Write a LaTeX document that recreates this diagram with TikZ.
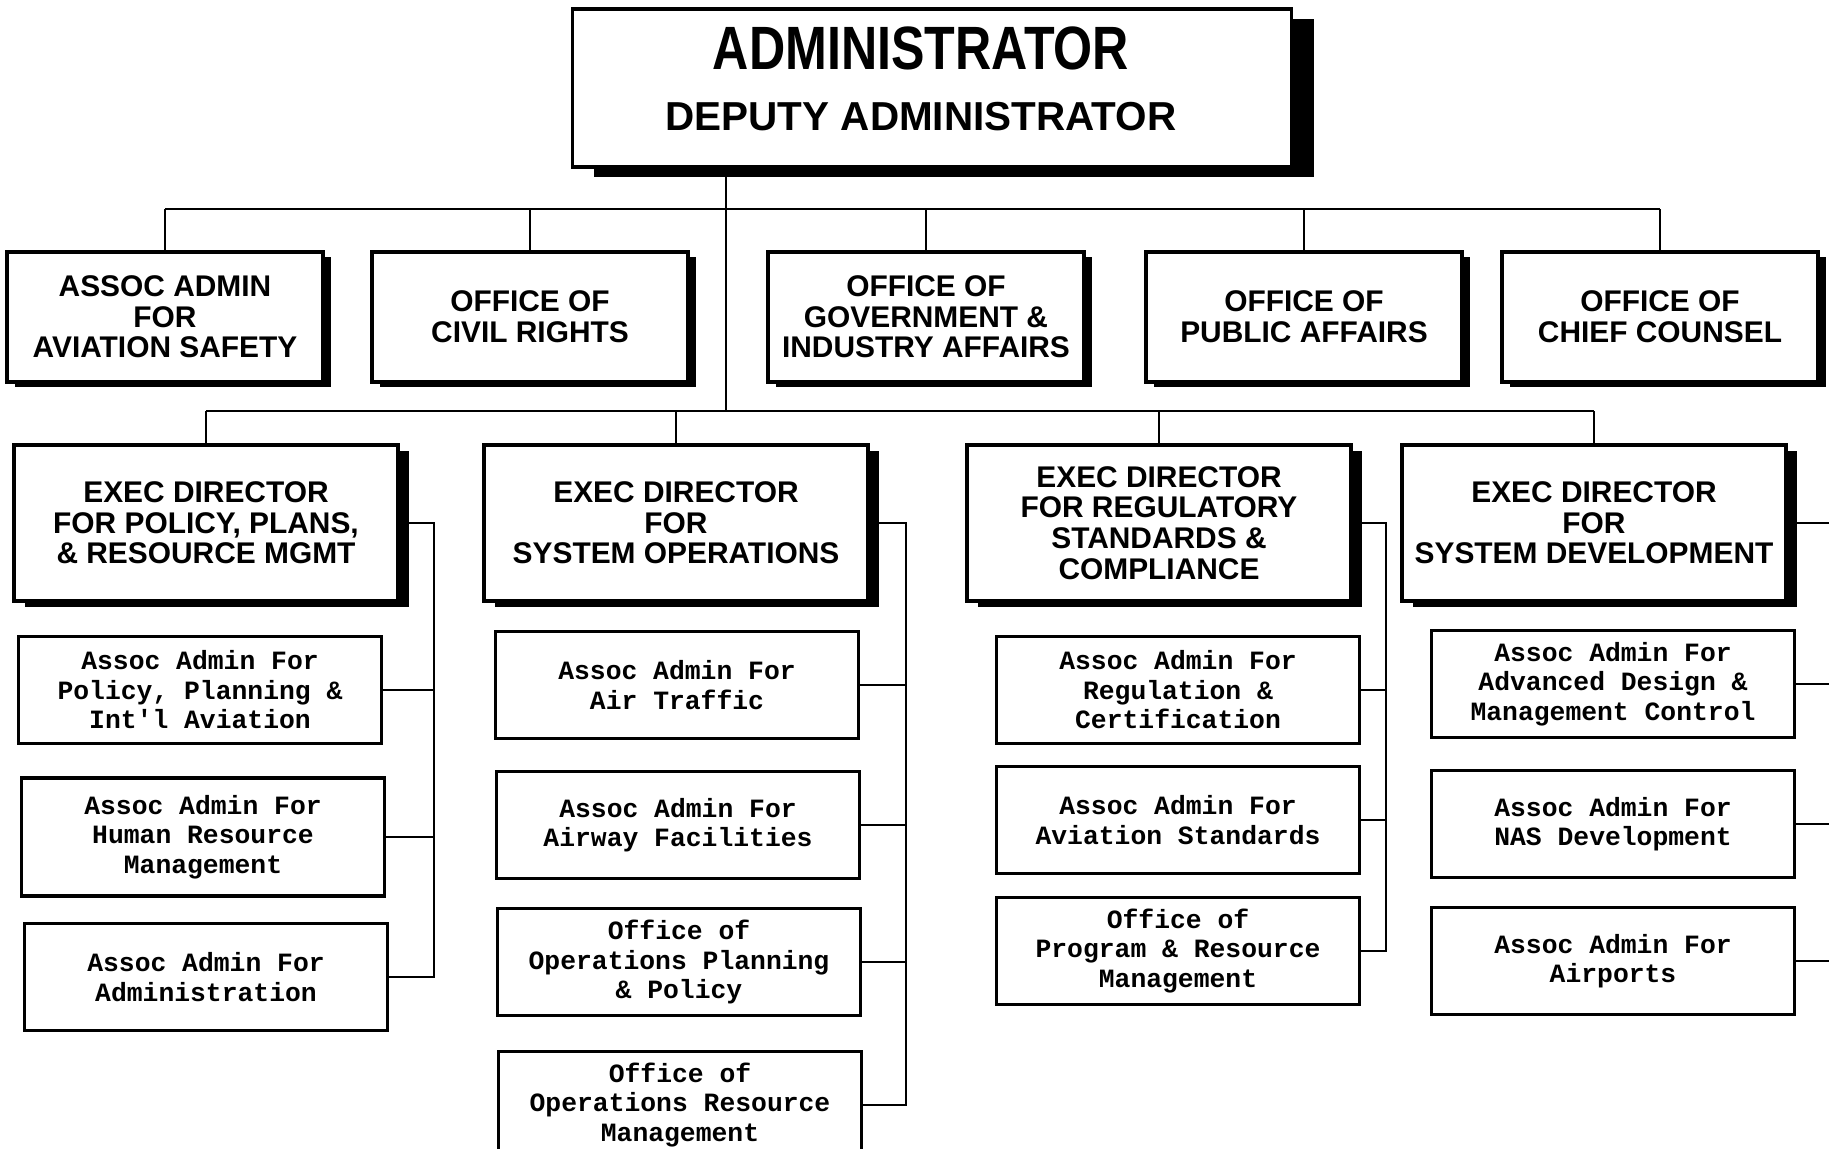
\documentclass[tikz,border=0pt]{standalone}
\usepackage{fontspec}
\setmainfont{Liberation Sans}
\newfontfamily\headfont[FakeStretch=0.82]{Liberation Sans}
\newfontfamily\typewfont{Liberation Mono}
\usetikzlibrary{shadows}

\begin{document}
\begin{tikzpicture}[
    x=0.01cm,
    y=-0.01cm,
    line width=0.8pt,
    orgbox/.style={draw, line width=1pt, fill=white, align=center, inner sep=0pt,
      font=\bfseries\fontsize{8.5}{8.7}\selectfont},
    officebox/.style={orgbox, minimum width=3.16cm, minimum height=1.3cm,
      drop shadow={shadow xshift=0.08cm, shadow yshift=-0.05cm, fill=black, opacity=1}},
    execbox/.style={orgbox, minimum width=3.84cm, minimum height=1.56cm,
      drop shadow={shadow xshift=0.11cm, shadow yshift=-0.06cm, fill=black, opacity=1}},
    unitbox/.style={draw, line width=0.9pt, fill=white, align=center, inner sep=0pt,
      font=\typewfont\bfseries\fontsize{7.5}{8.4}\selectfont,
      minimum width=3.62cm, minimum height=1.07cm}
  ]
    \useasboundingbox (0,0) rectangle (1829,1149);

    % top of the chart
    \node[orgbox, minimum width=7.19cm, minimum height=1.58cm,
      drop shadow={shadow xshift=0.22cm, shadow yshift=-0.1cm, fill=black, opacity=1}] (admin) at (932,88) {};
    \node[font=\headfont\bfseries\fontsize{17.4}{17.4}\selectfont, anchor=base] (admintitle) at (921,70) {ADMINISTRATOR};
    \node[font=\bfseries\fontsize{11.5}{11.5}\selectfont, anchor=base] (deputy) at (921,131) {DEPUTY ADMINISTRATOR};

    % staff offices
    \node[officebox] (safety) at (165,317) {ASSOC ADMIN\\FOR\\AVIATION SAFETY};
    \node[officebox] (civil) at (530,317) {OFFICE OF\\CIVIL RIGHTS};
    \node[officebox] (govt) at (926,317) {OFFICE OF\\GOVERNMENT \&\\INDUSTRY AFFAIRS};
    \node[officebox] (public) at (1304,317) {OFFICE OF\\PUBLIC AFFAIRS};
    \node[officebox] (counsel) at (1660,317) {OFFICE OF\\CHIEF COUNSEL};

    % executive directors
    \node[execbox] (plans) at (206,523) {EXEC DIRECTOR\\FOR POLICY, PLANS,\\\& RESOURCE MGMT};
    \node[execbox] (sysops) at (676,523) {EXEC DIRECTOR\\FOR\\SYSTEM OPERATIONS};
    \node[execbox] (regstd) at (1159,523) {EXEC DIRECTOR\\FOR REGULATORY\\STANDARDS \&\\COMPLIANCE};
    \node[execbox] (sysdev) at (1594,523) {EXEC DIRECTOR\\FOR\\SYSTEM DEVELOPMENT};

    % units under each director
    \node[unitbox] (p1) at (200,690) {Assoc Admin For\\Policy, Planning \&\\Int\textquotesingle l Aviation};
    \node[unitbox, minimum height=1.18cm] (p2) at (203,837) {Assoc Admin For\\Human Resource\\Management};
    \node[unitbox] (p3) at (206,977) {Assoc Admin For\\Administration};

    \node[unitbox] (s1) at (677,685) {Assoc Admin For\\Air Traffic};
    \node[unitbox] (s2) at (678,825) {Assoc Admin For\\Airway Facilities};
    \node[unitbox] (s3) at (679,962) {Office of\\Operations Planning\\\& Policy};
    \node[unitbox] (s4) at (680,1105) {Office of\\Operations Resource\\Management};

    \node[unitbox] (r1) at (1178,690) {Assoc Admin For\\Regulation \&\\Certification};
    \node[unitbox] (r2) at (1178,820) {Assoc Admin For\\Aviation Standards};
    \node[unitbox] (r3) at (1178,951) {Office of\\Program \& Resource\\Management};

    \node[unitbox] (d1) at (1613,684) {Assoc Admin For\\Advanced Design \&\\Management Control};
    \node[unitbox] (d2) at (1613,824) {Assoc Admin For\\NAS Development};
    \node[unitbox] (d3) at (1613,961) {Assoc Admin For\\Airports};

    % buses and trunk
    \coordinate (bus1) at (0,209);
    \coordinate (bus2) at (0,411);
    \coordinate (trunk) at (726,0);
    \draw (admin.south -| trunk) -- (bus2 -| trunk);
    \draw (safety.north |- bus1) -- (counsel.north |- bus1);
    \foreach \n in {safety,civil,govt,public,counsel}
      \draw (\n.north) -- (\n.north |- bus1);
    \draw (plans.north |- bus2) -- (sysdev.north |- bus2);
    \foreach \n in {plans,sysops,regstd,sysdev}
      \draw (\n.north) -- (\n.north |- bus2);

    % brackets on the right of each column
    \coordinate (plansbr) at (434,0);
    \coordinate (sysopsbr) at (906,0);
    \coordinate (regstdbr) at (1386,0);
    \coordinate (pageedge) at (1829,0);
    \draw (plans.east) -- (plans.east -| plansbr) -- (p3.east -| plansbr) -- (p3.east);
    \foreach \c in {p1,p2}
      \draw (\c.east) -- (\c.east -| plansbr);
    \draw (sysops.east) -- (sysops.east -| sysopsbr) -- (s4.east -| sysopsbr) -- (s4.east);
    \foreach \c in {s1,s2,s3}
      \draw (\c.east) -- (\c.east -| sysopsbr);
    \draw (regstd.east) -- (regstd.east -| regstdbr) -- (r3.east -| regstdbr) -- (r3.east);
    \foreach \c in {r1,r2}
      \draw (\c.east) -- (\c.east -| regstdbr);
    \foreach \c in {sysdev,d1,d2,d3}
      \draw (\c.east) -- (\c.east -| pageedge);
  \end{tikzpicture}
\end{document}
